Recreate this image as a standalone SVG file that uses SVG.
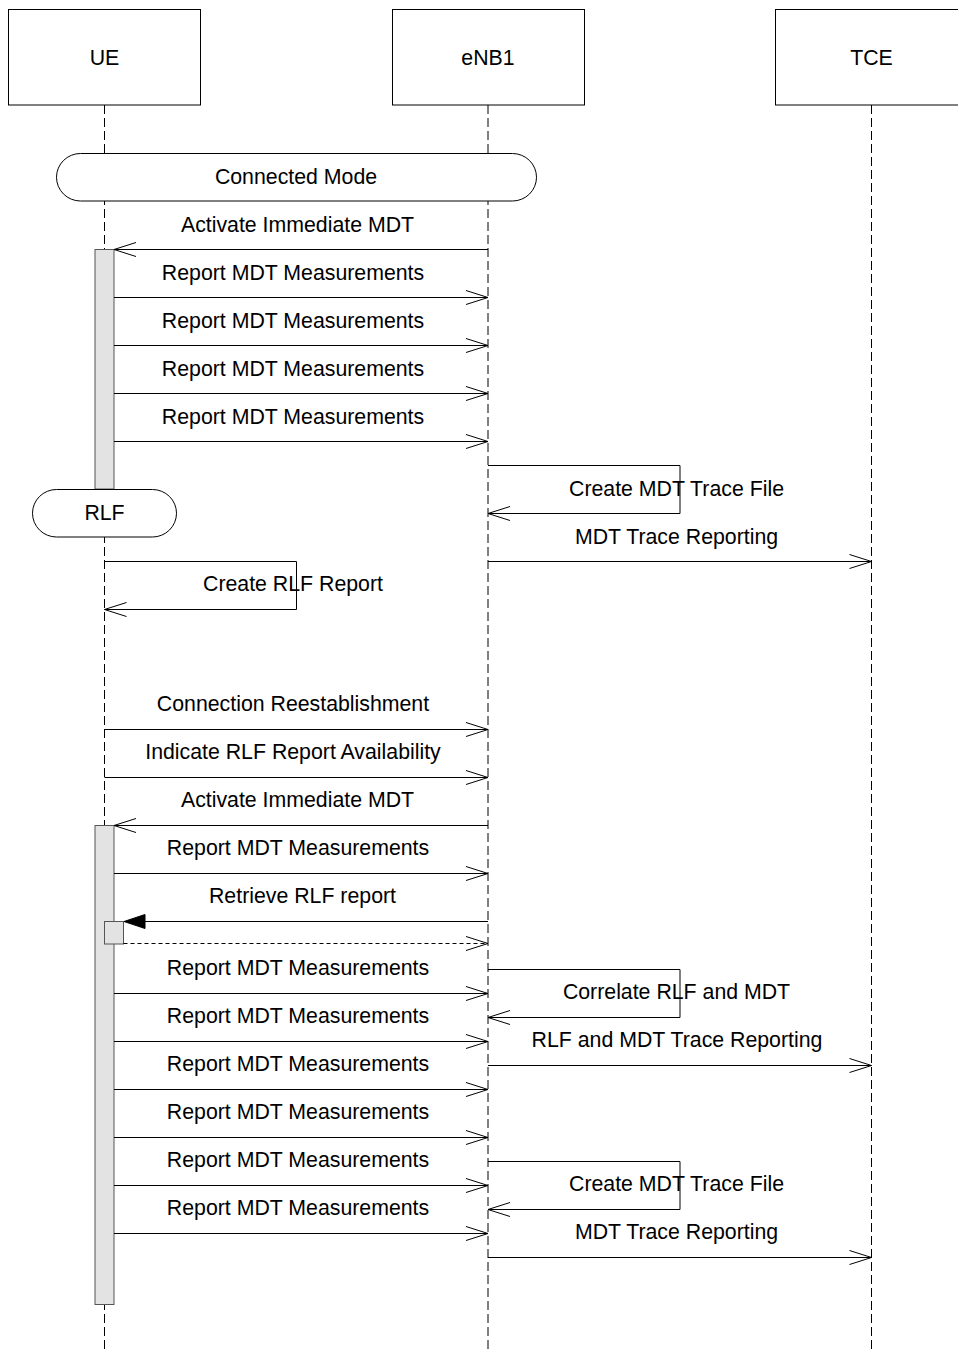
<svg xmlns="http://www.w3.org/2000/svg" width="958" height="1351" viewBox="0 0 958 1351">
<style>
text{font-family:"Liberation Sans",Arial,sans-serif;font-size:21.3px;fill:#000;text-anchor:middle}
.box{fill:#fff;stroke:#000;stroke-width:1}
.life{stroke:#000;stroke-width:1;stroke-dasharray:9 4;fill:none}
.msg{stroke:#000;stroke-width:1;fill:none}
.ret{stroke:#000;stroke-width:1;fill:none;stroke-dasharray:4 3}
.act{fill:#e3e3e3;stroke:#555;stroke-width:1}
.pill{fill:#fff;stroke:#000;stroke-width:1}
</style>
<defs>
<marker id="open" markerWidth="24" markerHeight="16" refX="23" refY="8" orient="auto" markerUnits="userSpaceOnUse">
<path d="M1,1 L23,8 L1,15" fill="none" stroke="#000" stroke-width="1"/>
</marker>
<marker id="filled" markerWidth="24" markerHeight="16" refX="22" refY="8" orient="auto" markerUnits="userSpaceOnUse">
<path d="M1,1 L22,8 L1,15 Z" fill="#000" stroke="#000" stroke-width="1"/>
</marker>
</defs>
<rect width="958" height="1351" fill="#fff"/>

<g id="lifelines">
<line class="life" x1="104.5" y1="105" x2="104.5" y2="1351"/>
<line class="life" x1="488" y1="105" x2="488" y2="1351"/>
<line class="life" x1="871.5" y1="105" x2="871.5" y2="1351"/>
</g>

<g id="UE"><rect class="box" x="8.5" y="9.5" width="192" height="95.5"/><text x="104.5" y="65">UE</text></g>
<g id="eNB1"><rect class="box" x="392.5" y="9.5" width="192" height="95.5"/><text x="488" y="65">eNB1</text></g>
<g id="TCE"><rect class="box" x="775.5" y="9.5" width="192" height="95.5"/><text x="871.5" y="65">TCE</text></g>

<g id="connected-mode"><rect class="pill" x="56.5" y="153.5" width="480" height="47.5" rx="24" ry="24"/><text x="296" y="184">Connected Mode</text></g>

<g id="activation1"><rect class="act" x="95" y="249.5" width="19" height="239.5"/></g>

<g id="rlf"><rect class="pill" x="32.5" y="489.5" width="144" height="47.5" rx="24" ry="24"/><text x="104.5" y="520">RLF</text></g>

<g id="activation2"><rect class="act" x="95" y="825.5" width="19" height="479"/></g>
<g id="retrieve-box"><rect class="act" x="104.5" y="921.5" width="19" height="22.5" stroke="#000"/></g>

<g id="connectors">
<line class="msg" x1="488" y1="249.5" x2="114" y2="249.5" marker-end="url(#open)"/>
<line class="msg" x1="114" y1="297.5" x2="488" y2="297.5" marker-end="url(#open)"/>
<line class="msg" x1="114" y1="345.5" x2="488" y2="345.5" marker-end="url(#open)"/>
<line class="msg" x1="114" y1="393.5" x2="488" y2="393.5" marker-end="url(#open)"/>
<line class="msg" x1="114" y1="441.5" x2="488" y2="441.5" marker-end="url(#open)"/>
<polyline class="msg" points="488,465.5 680,465.5 680,513.5 488,513.5" marker-end="url(#open)"/>
<line class="msg" x1="488" y1="561.5" x2="871.5" y2="561.5" marker-end="url(#open)"/>
<polyline class="msg" points="104.5,561.5 296.5,561.5 296.5,609.5 104.5,609.5" marker-end="url(#open)"/>
<line class="msg" x1="104.5" y1="729.5" x2="488" y2="729.5" marker-end="url(#open)"/>
<line class="msg" x1="104.5" y1="777.5" x2="488" y2="777.5" marker-end="url(#open)"/>
<line class="msg" x1="488" y1="825.5" x2="114" y2="825.5" marker-end="url(#open)"/>
<line class="msg" x1="114" y1="873.5" x2="488" y2="873.5" marker-end="url(#open)"/>
<line class="msg" x1="488" y1="921.5" x2="124" y2="921.5" marker-end="url(#filled)"/>
<line class="ret" x1="123.5" y1="943.5" x2="488" y2="943.5" marker-end="url(#open)"/>
<line class="msg" x1="114" y1="993.5" x2="488" y2="993.5" marker-end="url(#open)"/>
<polyline class="msg" points="488,969.5 680,969.5 680,1017.5 488,1017.5" marker-end="url(#open)"/>
<line class="msg" x1="114" y1="1041.5" x2="488" y2="1041.5" marker-end="url(#open)"/>
<line class="msg" x1="488" y1="1065.5" x2="871.5" y2="1065.5" marker-end="url(#open)"/>
<line class="msg" x1="114" y1="1089.5" x2="488" y2="1089.5" marker-end="url(#open)"/>
<line class="msg" x1="114" y1="1137.5" x2="488" y2="1137.5" marker-end="url(#open)"/>
<polyline class="msg" points="488,1161.5 680,1161.5 680,1209.5 488,1209.5" marker-end="url(#open)"/>
<line class="msg" x1="114" y1="1185.5" x2="488" y2="1185.5" marker-end="url(#open)"/>
<line class="msg" x1="114" y1="1233.5" x2="488" y2="1233.5" marker-end="url(#open)"/>
<line class="msg" x1="488" y1="1257.5" x2="871.5" y2="1257.5" marker-end="url(#open)"/>
</g>

<g id="labels">
<text x="297.5" y="232">Activate Immediate MDT</text>
<text x="293" y="280">Report MDT Measurements</text>
<text x="293" y="328">Report MDT Measurements</text>
<text x="293" y="376">Report MDT Measurements</text>
<text x="293" y="424">Report MDT Measurements</text>
<text x="676.5" y="496">Create MDT Trace File</text>
<text x="676.5" y="544">MDT Trace Reporting</text>
<text x="293" y="591">Create RLF Report</text>
<text x="293" y="711">Connection Reestablishment</text>
<text x="293" y="759">Indicate RLF Report Availability</text>
<text x="297.5" y="807">Activate Immediate MDT</text>
<text x="298" y="855">Report MDT Measurements</text>
<text x="302.5" y="903">Retrieve RLF report</text>
<text x="298" y="975">Report MDT Measurements</text>
<text x="676.5" y="999">Correlate RLF and MDT</text>
<text x="298" y="1023">Report MDT Measurements</text>
<text x="677" y="1047">RLF and MDT Trace Reporting</text>
<text x="298" y="1071">Report MDT Measurements</text>
<text x="298" y="1119">Report MDT Measurements</text>
<text x="298" y="1167">Report MDT Measurements</text>
<text x="676.5" y="1191">Create MDT Trace File</text>
<text x="298" y="1215">Report MDT Measurements</text>
<text x="676.5" y="1239">MDT Trace Reporting</text>
</g>
</svg>
